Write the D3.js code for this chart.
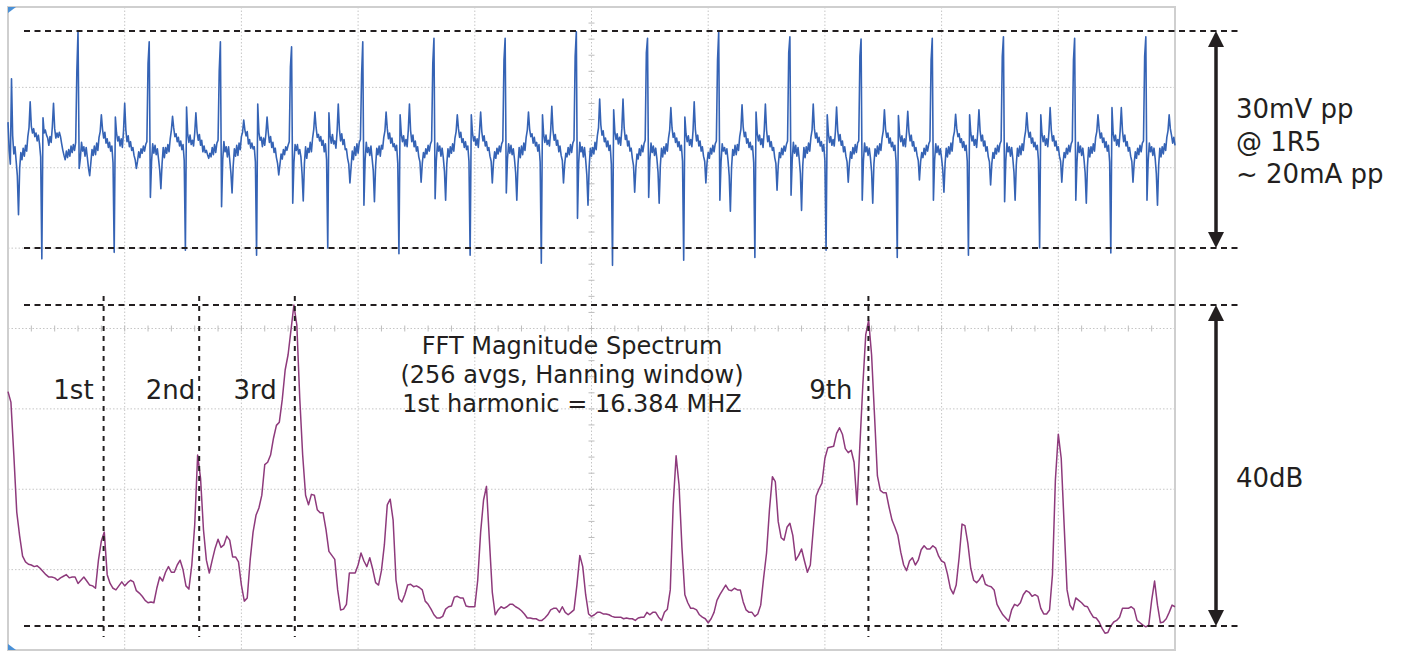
<!DOCTYPE html>
<html>
<head>
<meta charset="utf-8">
<script src="https://cdn.jsdelivr.net/npm/d3@7"></script>
<style>
  html, body { margin: 0; padding: 0; background: #fff; }
  svg { display: block; font-family: "DejaVu Sans", Verdana, sans-serif; }
</style>
</head>
<body>
<div id="scope"></div>
<script>
// ---- data ----

// channel A, one sample per ns, 0..1000 ns (mV)
const sampleNs = 1;
const chA_mV = [
  // lead-in before the first up spike
  2.4,-1.5,-3.4,8.4,0.5,-2.0,-1.0,-3.0,-5.0,-10.4,-4.0,-1.8,-2.8,-1.2,-2.3,-0.8,-1.6,0.4,1.6,5.2,
  1.8,0.9,1.5,0.4,0.9,-0.2,0.6,-0.6,-2.4,-16.5,3.0,0.9,1.3,0.6,0.2,-0.8,0.4,-0.4,1.8,5.0,
  1.5,0.2,0.9,0.3,1.0,0.4,-0.6,-1.5,-2.2,-2.8,-1.6,-2.5,-1.4,-2.3,-0.9,-1.8,-0.7,-1.5,-0.4,9.5,
  // one row per switching period (~61 ns)
  15.0,-4.0,-2.6,-0.4,-1.6,-1.0,-2.3,-1.1,-2.5,-4.0,-5.0,-3.2,-1.4,-2.2,-0.9,-2.1,-0.5,-1.5,0.3,1.1,3.4,1.4,0.2,1.0,-0.5,0.1,-1.1,-0.4,-1.6,-0.9,-3.2,-15.6,3.1,0.9,-0.2,0.4,-0.9,0.1,-1.1,1.2,5.0,1.3,-0.3,0.5,-1.0,-0.3,-1.5,-1.1,-2.2,-2.8,-4.0,-3.0,-1.7,-2.5,-1.3,-1.9,-0.9,-1.6,-0.7,-0.3,10.5,
  13.5,-8.0,-3.1,-0.6,-1.9,-0.8,-2.1,-1.3,-2.7,-4.2,-6.8,-3.4,-1.1,-2.5,-1.1,-1.9,-0.7,-1.7,0.1,1.3,3.2,1.6,0.4,0.8,-0.3,0.3,-0.9,-0.2,-1.4,-0.7,-2.9,-15.3,4.5,0.7,-0.4,0.6,-0.7,-0.1,-0.9,0.9,3.7,1.1,-0.1,0.7,-0.8,-0.1,-1.7,-0.9,-1.8,-1.5,-2.1,-2.6,-1.9,-2.4,-1.1,-2.1,-0.7,-1.8,-0.5,-0.1,9.5,
  13.5,-9.3,-2.8,-0.3,-1.7,-1.0,-2.4,-1.0,-2.8,-4.6,-7.4,-3.6,-1.3,-2.3,-0.8,-2.2,-0.5,-1.4,0.4,1.0,2.7,1.3,0.5,1.1,-0.6,0.0,-1.2,-0.5,-1.3,-1.0,-3.1,-16.0,4.9,1.0,-0.1,0.3,-1.0,0.2,-0.8,0.8,3.1,1.0,-0.4,0.4,-1.1,-0.4,-1.8,-1.2,-2.5,-3.3,-4.9,-3.5,-2.0,-2.7,-1.4,-2.1,-1.0,-1.5,-0.8,-0.3,10.0,
  12.8,-8.8,-3.2,-0.7,-1.5,-0.7,-2.0,-1.4,-2.4,-4.8,-8.5,-3.3,-1.0,-2.6,-1.2,-1.8,-0.4,-1.7,0.2,1.4,3.8,1.7,0.3,0.7,-0.2,0.4,-0.8,-0.1,-1.7,-0.6,-2.8,-15.0,3.7,0.6,-0.5,0.7,-0.6,-0.2,-1.2,1.1,4.9,1.4,-0.2,0.8,-0.7,0.0,-1.4,-1.3,-2.6,-3.4,-6.0,-3.8,-1.6,-2.8,-1.0,-2.2,-0.6,-1.9,-0.4,0.0,9.0,
  13.5,-9.1,-2.9,-0.4,-1.8,-1.1,-2.2,-0.9,-2.6,-4.3,-8.6,-3.7,-1.2,-2.1,-0.9,-2.3,-0.8,-1.3,0.3,1.2,3.8,1.5,0.1,0.9,-0.5,0.2,-1.0,-0.6,-1.5,-0.8,-3.3,-15.8,3.4,0.8,-0.3,0.5,-0.9,0.0,-1.0,1.3,4.9,1.2,-0.3,0.6,-1.0,-0.2,-1.6,-1.0,-2.4,-3.1,-5.9,-3.3,-1.8,-2.5,-1.3,-2.0,-0.8,-1.6,-0.6,-0.2,10.5,
  14.0,-8.2,-3.0,-0.5,-1.6,-0.9,-2.3,-1.2,-2.5,-4.4,-8.4,-3.4,-1.3,-2.4,-1.0,-1.9,-0.6,-1.6,0.2,1.1,3.4,1.5,0.3,1.0,-0.4,0.1,-1.1,-0.3,-1.4,-0.9,-3.0,-16.0,3.4,0.9,-0.2,0.4,-0.8,0.1,-1.1,1.0,3.8,1.1,-0.2,0.5,-0.9,-0.3,-1.5,-1.1,-2.3,-3.0,-6.0,-3.2,-1.7,-2.6,-1.2,-2.0,-0.9,-1.7,-0.6,-0.2,11.0,
  14.0,-7.4,-2.7,-0.6,-1.9,-0.8,-2.1,-1.3,-2.7,-4.6,-8.4,-3.5,-1.1,-2.5,-0.9,-2.1,-0.5,-1.5,0.3,1.3,3.8,1.4,0.4,0.8,-0.5,0.3,-0.9,-0.4,-1.6,-0.7,-3.1,-17.1,3.4,0.7,-0.4,0.6,-0.7,-0.1,-0.9,1.1,4.6,1.3,-0.1,0.7,-0.8,-0.1,-1.7,-0.9,-2.2,-2.9,-6.0,-3.4,-1.9,-2.4,-1.1,-2.1,-0.7,-1.8,-0.5,-0.1,11.5,
  14.9,-10.9,-3.3,-0.4,-1.7,-1.0,-2.4,-1.1,-2.8,-4.9,-9.1,-3.8,-1.2,-2.3,-1.1,-2.0,-0.4,-1.4,0.5,1.6,5.6,2.0,0.6,1.2,-0.3,0.2,-1.0,-0.2,-1.5,-0.8,-3.4,-17.4,4.1,1.1,0.0,0.8,-0.6,0.3,-0.8,1.5,5.6,1.6,0.0,0.6,-0.9,-0.2,-1.6,-1.2,-2.6,-3.6,-7.3,-4.0,-2.0,-2.7,-1.3,-2.2,-0.8,-1.7,-0.6,-0.1,12.0,
  14.0,-8.0,-2.9,-0.5,-1.8,-0.9,-2.2,-1.2,-2.6,-4.5,-8.8,-3.6,-1.2,-2.4,-1.0,-2.0,-0.6,-1.6,0.2,1.3,4.4,1.6,0.3,0.9,-0.4,0.2,-1.0,-0.3,-1.5,-0.8,-3.0,-16.7,3.1,0.8,-0.3,0.5,-0.8,0.0,-1.0,1.2,5.2,1.4,-0.2,0.6,-0.9,-0.2,-1.6,-1.0,-2.3,-3.0,-6.0,-3.2,-1.8,-2.6,-1.2,-2.0,-0.8,-1.7,-0.6,-0.2,11.0,
  14.9,-8.4,-3.1,-0.6,-1.6,-1.1,-2.0,-1.3,-2.9,-5.0,-9.9,-3.9,-1.4,-2.2,-0.8,-2.1,-0.7,-1.5,0.4,1.4,4.8,1.7,0.4,1.0,-0.5,0.1,-1.1,-0.4,-1.4,-0.9,-3.2,-16.3,3.8,0.9,-0.2,0.6,-0.7,0.1,-1.1,1.2,4.9,1.3,-0.3,0.5,-1.0,-0.3,-1.5,-1.1,-2.5,-3.3,-7.0,-3.6,-1.8,-2.5,-1.2,-2.1,-0.9,-1.6,-0.7,-0.2,12.0,
  14.2,-7.7,-2.8,-0.4,-1.9,-0.8,-2.3,-1.1,-2.7,-4.7,-9.8,-3.7,-1.1,-2.5,-1.0,-1.9,-0.5,-1.6,0.3,1.3,4.9,1.5,0.2,0.9,-0.4,0.3,-0.9,-0.3,-1.6,-0.7,-2.9,-15.3,3.4,0.8,-0.4,0.4,-0.8,0.0,-0.9,1.1,4.5,1.2,-0.2,0.7,-0.8,-0.2,-1.7,-1.0,-2.3,-3.1,-5.9,-3.3,-1.7,-2.6,-1.1,-2.0,-0.7,-1.8,-0.5,-0.2,11.5,
  13.9,-8.4,-3.0,-0.5,-1.7,-1.0,-2.2,-1.2,-2.5,-4.4,-8.8,-3.4,-1.3,-2.3,-0.9,-2.0,-0.6,-1.5,0.2,1.2,4.1,1.4,0.3,0.9,-0.5,0.2,-1.0,-0.4,-1.5,-0.8,-3.1,-16.3,3.3,0.7,-0.3,0.5,-0.9,0.1,-1.0,1.0,3.9,1.1,-0.2,0.6,-0.9,-0.3,-1.6,-1.1,-2.2,-2.9,-5.6,-3.1,-1.8,-2.5,-1.2,-2.1,-0.8,-1.6,-0.6,-0.2,11.0,
  14.0,-8.4,-2.9,-0.6,-1.8,-0.9,-2.1,-1.3,-2.6,-4.2,-7.3,-3.3,-1.2,-2.4,-1.0,-2.0,-0.5,-1.6,0.3,1.1,3.5,1.5,0.4,0.8,-0.4,0.1,-1.1,-0.3,-1.5,-0.8,-3.0,-16.0,3.4,0.9,-0.2,0.5,-0.8,0.0,-1.1,1.1,4.1,1.2,-0.2,0.6,-0.9,-0.2,-1.6,-1.0,-2.4,-3.1,-6.3,-3.4,-1.8,-2.6,-1.2,-2.0,-0.8,-1.7,-0.6,-0.2,11.5,
  14.2,-8.6,-3.0,-0.5,-1.7,-1.0,-2.3,-1.1,-2.6,-4.5,-8.4,-3.5,-1.2,-2.3,-0.9,-2.1,-0.6,-1.5,0.2,1.2,3.7,1.4,0.3,1.0,-0.5,0.2,-1.0,-0.4,-1.4,-0.8,-2.9,-15.0,3.4,0.8,-0.3,0.5,-0.8,0.1,-1.0,1.1,4.4,1.3,-0.2,0.5,-0.9,-0.2,-1.5,-1.0,-2.3,-3.0,-5.9,-3.3,-1.8,-2.5,-1.2,-2.0,-0.8,-1.7,-0.6,-0.2,11.0,
  14.0,-8.4,-3.1,-0.4,-1.8,-0.9,-2.2,-1.2,-2.7,-4.6,-8.8,-3.6,-1.1,-2.4,-1.0,-1.9,-0.6,-1.6,0.3,1.1,3.4,1.5,0.2,0.9,-0.4,0.2,-1.1,-0.3,-1.6,-0.8,-3.1,-15.7,4.4,0.9,-0.2,0.6,-0.8,0.0,-1.0,1.2,4.4,1.2,-0.3,0.6,-0.9,-0.3,-1.6,-1.1,-2.3,-3.0,-5.9,-3.3,-1.7,-2.6,-1.2,-2.1,-0.8,-1.7,-0.5,-0.2,11.5,
  14.2,-8.4,-3.0,-0.5,-1.7,-1.0,-2.2,-1.2,-2.6,-4.7,-9.1,-3.6,-1.2,-2.4,-1.0,-2.0,-0.6,-1.5,0.3,1.2,3.4,1.5,0.6,-0.5,0.3,-0.8
];

// FFT magnitude, one bin per 0.5 MHz, 0..200 MHz (dB rel. 3rd harmonic)
const fftBinMHz = 0.5;
const fft_dB = [
  -10.8,-12.1,-18.7,-25.8,-28.8,-31.3,-32.0,-32.3,-32.4,-32.6,
  -32.5,-32.8,-33.2,-33.6,-33.9,-33.9,-34.0,-34.3,-34.0,-33.8,
  -33.6,-34.0,-33.9,-33.9,-34.7,-34.3,-33.9,-34.4,-34.9,-35.0,
  -35.3,-31.8,-29.4,-28.3,-33.6,-34.7,-35.3,-35.5,-35.0,-34.5,
  -35.0,-34.6,-34.3,-34.5,-35.6,-35.9,-36.3,-36.8,-37.1,-37.0,
  -37.1,-35.3,-33.9,-34.4,-33.3,-32.6,-33.3,-33.3,-32.4,-31.8,
  -33.0,-35.0,-35.4,-32.4,-27.4,-18.7,-21.6,-28.0,-31.8,-33.4,
  -31.8,-30.3,-29.2,-30.2,-29.9,-28.8,-29.3,-31.4,-31.4,-32.0,
  -34.9,-36.9,-36.5,-31.8,-28.3,-26.2,-25.3,-23.7,-19.9,-19.6,
  -18.7,-16.6,-15.0,-14.6,-11.8,-8.1,-6.2,-3.1,0.0,-2.5,
  -11.6,-18.7,-23.7,-24.9,-23.6,-23.7,-25.5,-25.9,-25.9,-28.0,
  -30.7,-31.2,-31.7,-35.5,-38.0,-37.9,-37.3,-33.4,-33.4,-33.4,
  -32.4,-30.9,-31.9,-32.6,-31.5,-32.9,-34.6,-34.9,-33.1,-29.9,
  -24.9,-24.2,-26.8,-34.3,-36.6,-37.0,-36.1,-34.9,-34.8,-35.1,
  -35.0,-35.2,-35.5,-36.9,-37.3,-37.9,-38.6,-39.0,-39.0,-38.8,
  -37.9,-37.6,-37.5,-36.4,-36.3,-36.5,-36.5,-37.5,-37.6,-37.6,
  -37.6,-34.3,-28.3,-24.3,-22.6,-29.3,-35.8,-38.6,-38.0,-37.6,
  -37.8,-37.6,-37.3,-37.3,-37.6,-37.8,-38.1,-38.5,-39.0,-39.0,
  -39.1,-39.1,-39.3,-39.3,-39.0,-38.6,-38.0,-37.8,-37.8,-38.3,
  -37.6,-38.3,-38.6,-38.3,-38.0,-34.9,-31.2,-32.6,-36.1,-38.5,
  -38.8,-38.6,-38.3,-38.3,-38.5,-38.5,-38.6,-38.8,-38.9,-38.9,
  -38.9,-39.1,-39.0,-39.1,-39.1,-39.3,-39.0,-38.9,-38.9,-38.3,
  -38.6,-38.3,-38.3,-38.9,-39.3,-38.3,-37.9,-35.5,-24.9,-18.8,
  -22.4,-30.2,-36.1,-37.1,-37.8,-37.8,-38.0,-38.6,-38.9,-39.1,
  -39.6,-39.1,-38.3,-36.8,-36.1,-35.5,-34.9,-35.5,-35.6,-35.3,
  -35.5,-35.5,-37.0,-38.0,-38.3,-38.3,-38.8,-38.5,-37.4,-34.0,
  -30.9,-25.5,-21.4,-22.0,-27.0,-29.0,-29.3,-27.7,-27.2,-28.7,
  -31.8,-31.2,-30.4,-31.9,-33.3,-32.4,-28.0,-23.8,-22.9,-22.2,
  -19.1,-17.8,-17.7,-17.6,-16.0,-15.3,-16.1,-17.9,-18.4,-18.1,
  -19.6,-24.9,-17.4,-10.0,-3.7,-1.9,-6.2,-13.7,-21.3,-23.1,
  -23.4,-23.4,-25.2,-26.8,-27.7,-28.7,-30.8,-32.4,-33.1,-31.9,
  -31.5,-32.4,-31.8,-30.5,-30.0,-30.4,-30.4,-30.0,-30.3,-31.3,
  -31.9,-32.1,-33.5,-35.3,-36.0,-34.9,-31.5,-27.3,-27.5,-29.7,
  -32.8,-34.3,-34.6,-34.2,-33.6,-34.8,-35.0,-35.1,-35.5,-37.3,
  -38.0,-38.6,-39.0,-39.4,-38.0,-37.3,-37.5,-37.1,-36.1,-35.6,
  -35.8,-36.3,-36.1,-36.3,-37.8,-38.5,-38.5,-38.0,-33.6,-21.8,
  -16.1,-19.1,-27.4,-35.5,-37.4,-38.0,-36.5,-36.8,-37.1,-37.5,
  -37.6,-38.3,-38.9,-39.0,-39.5,-40.3,-40.9,-40.8,-40.0,-39.5,
  -39.3,-38.9,-37.8,-37.8,-37.8,-37.6,-37.9,-39.3,-39.6,-39.9,
  -40.1,-39.9,-36.8,-34.4,-37.4,-39.6,-39.5,-39.1,-38.3,-37.4,
  -37.6
];

const fundamentalMHz = 16.384;
const markedHarmonics = [1, 2, 3, 9];
const harmonicNames = ["1st", "2nd", "3rd", "9th"];
const ppLimits_mV = [-15, 15];
const dbSpan = [-40, 0];
const titleLines = ["FFT Magnitude Spectrum", "(256 avgs, Hanning window)", "1st harmonic = 16.384 MHZ"];
const voltNotes = ["30mV pp", "@ 1R5", "~ 20mA pp"];
const dbNote = "40dB";

// ---- layout ----
const W = 1403, H = 653;
const scr = { left: 8, right: 1175, top: 7, bottom: 650 };
const ink = "#231f20";

const svg = d3.select("#scope")
  .append("svg")
  .attr("width", W)
  .attr("height", H);

// screen divisions (10 x 8) and the two channels
const xDiv = d3.scaleLinear().domain([0, 10]).range([scr.left, scr.right]);
const yDiv = d3.scaleLinear().domain([0, 8]).range([scr.bottom, scr.top]);
const xTime = d3.scaleLinear().domain([0, 1000]).range([scr.left, scr.right]);
const yVolt = d3.scaleLinear().domain(ppLimits_mV).range([248, 31]);
const xFreq = d3.scaleLinear().domain([0, 200]).range([scr.left, scr.right]);
const yDb = d3.scaleLinear().domain(dbSpan).range([626, 305]);

// dotted graticule
const grid = svg.append("g").attr("stroke", "#c6c6c6").attr("stroke-width", 1);
grid.selectAll(".vgrid")
  .data(d3.range(1, 10))
  .enter().append("line")
  .attr("x1", d => xDiv(d)).attr("x2", d => xDiv(d))
  .attr("y1", scr.top).attr("y2", scr.bottom)
  .attr("stroke-dasharray", "1.5,2");
grid.selectAll(".hgrid")
  .data(d3.range(1, 8))
  .enter().append("line")
  .attr("x1", scr.left).attr("x2", scr.right)
  .attr("y1", d => yDiv(d)).attr("y2", d => yDiv(d))
  .attr("stroke-dasharray", "1.5,2");

// minor ticks on the centre cross
grid.selectAll(".xminor")
  .data(d3.range(0.2, 10, 0.2))
  .enter().append("line")
  .attr("x1", d => xDiv(d)).attr("x2", d => xDiv(d))
  .attr("y1", yDiv(4) - 3).attr("y2", yDiv(4) + 3)
  .attr("stroke", "#bdbdbd");
grid.selectAll(".yminor")
  .data(d3.range(0.2, 8, 0.2))
  .enter().append("line")
  .attr("x1", xDiv(5) - 3).attr("x2", xDiv(5) + 3)
  .attr("y1", d => yDiv(d)).attr("y2", d => yDiv(d))
  .attr("stroke", "#bdbdbd");

// screen frame
svg.append("rect")
  .attr("x", scr.left).attr("y", scr.top)
  .attr("width", scr.right - scr.left).attr("height", scr.bottom - scr.top)
  .attr("fill", "none").attr("stroke", "#cfcfcf").attr("stroke-width", 2);

// small blue channel markers at the left edge
svg.append("path")
  .attr("d", `M${scr.left},${scr.top} L${scr.left + 8},${scr.top} L${scr.left},${scr.top + 6} Z`)
  .attr("fill", "#4a90d6");
svg.append("path")
  .attr("d", `M${scr.left},${scr.bottom} L${scr.left + 8},${scr.bottom} L${scr.left},${scr.bottom - 6} Z`)
  .attr("fill", "#4a90d6");

// channel A trace
const lineA = d3.line()
  .x((d, i) => xTime(i * sampleNs))
  .y(d => yVolt(d));
svg.append("path")
  .datum(chA_mV)
  .attr("d", lineA)
  .attr("fill", "none")
  .attr("stroke", "#3563b5")
  .attr("stroke-width", 1.6)
  .attr("stroke-linejoin", "round");

// FFT trace
const lineF = d3.line()
  .x((d, i) => xFreq(i * fftBinMHz))
  .y(d => yDb(d));
svg.append("path")
  .datum(fft_dB)
  .attr("d", lineF)
  .attr("fill", "none")
  .attr("stroke", "#8e3a7c")
  .attr("stroke-width", 1.5)
  .attr("stroke-linejoin", "round");

// dashed reference levels
const levels = [yVolt(ppLimits_mV[1]), yVolt(ppLimits_mV[0]), yDb(dbSpan[1]), yDb(dbSpan[0])];
svg.selectAll(".level")
  .data(levels)
  .enter().append("line")
  .attr("x1", 24).attr("x2", 1238)
  .attr("y1", d => d).attr("y2", d => d)
  .attr("stroke", ink).attr("stroke-width", 2)
  .attr("stroke-dasharray", "6,4.5");

// harmonic markers
svg.selectAll(".harm")
  .data(markedHarmonics)
  .enter().append("line")
  .attr("x1", d => xFreq(d * fundamentalMHz)).attr("x2", d => xFreq(d * fundamentalMHz))
  .attr("y1", 296).attr("y2", 637)
  .attr("stroke", ink).attr("stroke-width", 2)
  .attr("stroke-dasharray", "5,5");

const labelGap = [10, 4, 18, 16];
svg.selectAll(".harmLabel")
  .data(markedHarmonics)
  .enter().append("text")
  .attr("x", (d, i) => xFreq(d * fundamentalMHz) - labelGap[i])
  .attr("y", 399)
  .attr("text-anchor", "end")
  .attr("font-size", 26)
  .attr("fill", ink)
  .text((d, i) => harmonicNames[i]);

// FFT caption
svg.selectAll(".title")
  .data(titleLines)
  .enter().append("text")
  .attr("x", 572)
  .attr("y", (d, i) => 354 + i * 29)
  .attr("text-anchor", "middle")
  .attr("font-size", 24)
  .attr("fill", ink)
  .text(d => d);

// span arrows on the right
const arrowX = 1216;
function spanArrow(yTop, yBot) {
  const g = svg.append("g").attr("fill", ink);
  g.append("line")
    .attr("x1", arrowX).attr("x2", arrowX)
    .attr("y1", yTop + 10).attr("y2", yBot - 10)
    .attr("stroke", ink).attr("stroke-width", 3.5);
  g.append("path").attr("d", `M${arrowX},${yTop} L${arrowX - 8},${yTop + 16} L${arrowX + 8},${yTop + 16} Z`);
  g.append("path").attr("d", `M${arrowX},${yBot} L${arrowX - 8},${yBot - 16} L${arrowX + 8},${yBot - 16} Z`);
}
spanArrow(yVolt(ppLimits_mV[1]), yVolt(ppLimits_mV[0]));
spanArrow(yDb(dbSpan[1]), yDb(dbSpan[0]));

svg.selectAll(".vnote")
  .data(voltNotes)
  .enter().append("text")
  .attr("x", 1236)
  .attr("y", (d, i) => 118 + i * 32.5)
  .attr("font-size", 26)
  .attr("fill", ink)
  .text(d => d);

svg.append("text")
  .attr("x", 1236)
  .attr("y", 487)
  .attr("font-size", 26)
  .attr("fill", ink)
  .text(dbNote);
</script>
</body>
</html>
